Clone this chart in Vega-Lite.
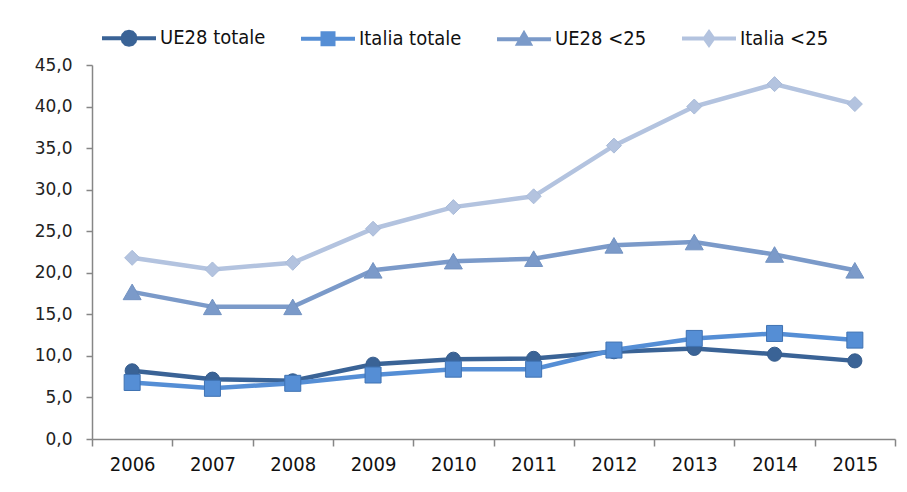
{
  "$schema": "https://vega.github.io/schema/vega-lite/v6.json",
  "width": 803,
  "height": 374,
  "autosize": "none",
  "padding": {"left": 92, "top": 65, "right": 12, "bottom": 53},
  "background": "white",
  "config": {"view": {"stroke": null}},
  "data": {
    "values": [
      {"year": "2006", "series": "UE28 totale", "value": 8.2},
      {"year": "2007", "series": "UE28 totale", "value": 7.2},
      {"year": "2008", "series": "UE28 totale", "value": 7.0},
      {"year": "2009", "series": "UE28 totale", "value": 9.0},
      {"year": "2010", "series": "UE28 totale", "value": 9.6},
      {"year": "2011", "series": "UE28 totale", "value": 9.7},
      {"year": "2012", "series": "UE28 totale", "value": 10.5},
      {"year": "2013", "series": "UE28 totale", "value": 10.9},
      {"year": "2014", "series": "UE28 totale", "value": 10.2},
      {"year": "2015", "series": "UE28 totale", "value": 9.4},
      {"year": "2006", "series": "Italia totale", "value": 6.8},
      {"year": "2007", "series": "Italia totale", "value": 6.1},
      {"year": "2008", "series": "Italia totale", "value": 6.7},
      {"year": "2009", "series": "Italia totale", "value": 7.7},
      {"year": "2010", "series": "Italia totale", "value": 8.4},
      {"year": "2011", "series": "Italia totale", "value": 8.4},
      {"year": "2012", "series": "Italia totale", "value": 10.7},
      {"year": "2013", "series": "Italia totale", "value": 12.1},
      {"year": "2014", "series": "Italia totale", "value": 12.7},
      {"year": "2015", "series": "Italia totale", "value": 11.9},
      {"year": "2006", "series": "UE28 <25", "value": 17.7},
      {"year": "2007", "series": "UE28 <25", "value": 15.9},
      {"year": "2008", "series": "UE28 <25", "value": 15.9},
      {"year": "2009", "series": "UE28 <25", "value": 20.3},
      {"year": "2010", "series": "UE28 <25", "value": 21.4},
      {"year": "2011", "series": "UE28 <25", "value": 21.7},
      {"year": "2012", "series": "UE28 <25", "value": 23.3},
      {"year": "2013", "series": "UE28 <25", "value": 23.7},
      {"year": "2014", "series": "UE28 <25", "value": 22.2},
      {"year": "2015", "series": "UE28 <25", "value": 20.3},
      {"year": "2006", "series": "Italia <25", "value": 21.8},
      {"year": "2007", "series": "Italia <25", "value": 20.4},
      {"year": "2008", "series": "Italia <25", "value": 21.2},
      {"year": "2009", "series": "Italia <25", "value": 25.3},
      {"year": "2010", "series": "Italia <25", "value": 27.9},
      {"year": "2011", "series": "Italia <25", "value": 29.2},
      {"year": "2012", "series": "Italia <25", "value": 35.3},
      {"year": "2013", "series": "Italia <25", "value": 40.0},
      {"year": "2014", "series": "Italia <25", "value": 42.7},
      {"year": "2015", "series": "Italia <25", "value": 40.3}
    ]
  },
  "encoding": {
    "x": {
      "field": "year",
      "type": "ordinal",
      "bandPosition": 0.5,
      "scale": {"type": "band", "paddingInner": 0, "paddingOuter": 0},
      "axis": {
        "title": null,
        "labelAngle": 0,
        "tickBand": "extent",
        "domainColor": "#868686",
        "domainWidth": 1.5,
        "tickColor": "#868686",
        "tickWidth": 1.5,
        "tickSize": 7,
        "labelFont": "DejaVu Sans Condensed",
        "labelFontSize": 20,
        "labelColor": "#111111",
        "labelPadding": 8
      }
    },
    "y": {
      "field": "value",
      "type": "quantitative",
      "scale": {"domain": [0, 45], "nice": false, "zero": true},
      "axis": {
        "title": null,
        "grid": false,
        "values": [0, 5, 10, 15, 20, 25, 30, 35, 40, 45],
        "labelExpr": "replace(format(datum.value, '.1f'), '.', ',')",
        "domainColor": "#868686",
        "domainWidth": 1.5,
        "tickColor": "#868686",
        "tickWidth": 1.5,
        "tickSize": 6,
        "labelFont": "DejaVu Sans",
        "labelFontSize": 17,
        "labelColor": "#222222",
        "labelPadding": 14
      }
    },
    "color": {
      "field": "series",
      "type": "nominal",
      "scale": {
        "domain": ["UE28 totale", "Italia totale", "UE28 <25", "Italia <25"],
        "range": ["#3A6396", "#558ED5", "#7B9AC9", "#B3C3DF"]
      },
      "legend": {
        "title": null,
        "orient": "none",
        "legendX": 7,
        "legendY": -37,
        "direction": "horizontal",
        "columns": 4,
        "columnPadding": 27,
        "padding": 0,
        "labelFont": "DejaVu Sans Condensed",
        "labelFontSize": 20,
        "labelColor": "#111111",
        "labelOffset": 41,
        "symbolSize": 100,
        "symbolStrokeWidth": 4,
        "symbolOpacity": 1,
        "symbolType": {"expr": "datum.value === 'UE28 totale' ? 'M-1.4,0L9.4,0M5.3,0L5.126,0.65L4.65,1.126L4,1.3L3.35,1.126L2.874,0.65L2.7,0L2.874,-0.65L3.35,-1.126L4,-1.3L4.65,-1.126L5.126,-0.65Z' : datum.value === 'Italia totale' ? 'M-1.4,0L9.4,0M2.9,-1.1L5.1,-1.1L5.1,1.1L2.9,1.1Z' : datum.value === 'UE28 <25' ? 'M-1.4,0L9.4,0M4,-1.1L5.15,0.9L2.85,0.9Z' : 'M-1.4,0L9.4,0M4,-1.2L4.85,0L4,1.2L3.15,0Z'"}
      }
    }
  },
  "layer": [
    {"mark": {"type": "line", "strokeWidth": 4.5}},
    {
      "transform": [{"filter": "datum.series === 'UE28 totale'"}],
      "mark": {"type": "point", "filled": true, "opacity": 1, "shape": "circle", "size": 200, "stroke": "#375D8C", "strokeWidth": 1}
    },
    {
      "transform": [{"filter": "datum.series === 'Italia totale'"}],
      "mark": {"type": "point", "filled": true, "opacity": 1, "shape": "square", "size": 256, "stroke": "#3F72B2", "strokeWidth": 1}
    },
    {
      "transform": [{"filter": "datum.series === 'UE28 <25'"}],
      "mark": {"type": "point", "filled": true, "opacity": 1, "shape": "triangle-up", "size": 324, "stroke": "#7393C2", "strokeWidth": 1}
    },
    {
      "transform": [{"filter": "datum.series === 'Italia <25'"}],
      "mark": {"type": "point", "filled": true, "opacity": 1, "shape": "diamond", "size": 225, "stroke": "#A9BBD9", "strokeWidth": 1}
    }
  ]
}
